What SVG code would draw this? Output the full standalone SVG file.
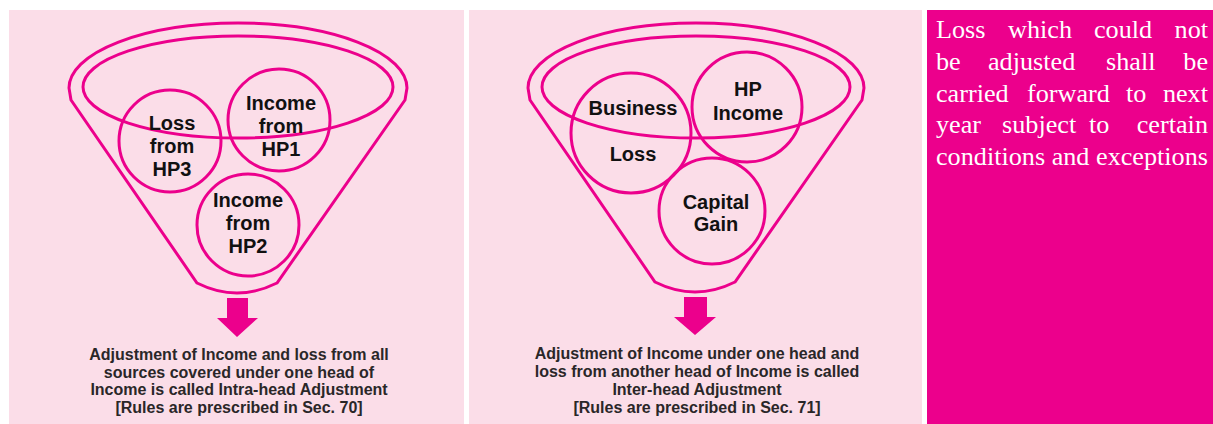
<svg xmlns="http://www.w3.org/2000/svg" width="1213" height="424" viewBox="0 0 1213 424">
<style>
.panel{fill:#FBDDE8}
.line{fill:none;stroke:#EC008C;stroke-width:3}
.lbl{font-family:"Liberation Sans",Arial,Helvetica,sans-serif;font-weight:bold;font-size:20px;fill:#111;text-anchor:middle}
.cap{font-family:"Liberation Sans",Arial,Helvetica,sans-serif;font-weight:bold;font-size:16px;fill:#2a2728;text-anchor:middle}
.note{font-family:"Liberation Serif","Times New Roman",serif;font-size:26.2px;fill:#fff}
.arrow{fill:#EC008C}
</style>
<rect width="1213" height="424" fill="#fff"/>
<rect class="panel" x="9" y="10" width="455" height="414"/>
<rect class="panel" x="469" y="10" width="453" height="414"/>
<rect x="927" y="10" width="286" height="414" fill="#EC008C"/>

<g id="funnel1">
<path class="line" d="M71,100 L69,88 A169,65 0 0 1 407,88 L405,100 L277,283 Q237,303 197,283 Z"/>
<ellipse class="line" cx="238" cy="87" rx="155" ry="51"/>
</g>
<g id="node-loss-hp3">
<circle class="line" cx="170" cy="141" r="51"/>
<text class="lbl" x="172" y="130">Loss</text>
<text class="lbl" x="172" y="153">from</text>
<text class="lbl" x="172" y="176">HP3</text>
</g>
<g id="node-income-hp1">
<circle class="line" cx="279" cy="120" r="51"/>
<text class="lbl" x="281" y="110">Income</text>
<text class="lbl" x="281" y="133">from</text>
<text class="lbl" x="281" y="156">HP1</text>
</g>
<g id="node-income-hp2">
<circle class="line" cx="248" cy="225" r="51"/>
<text class="lbl" x="248" y="207">Income</text>
<text class="lbl" x="248" y="230">from</text>
<text class="lbl" x="248" y="253">HP2</text>
</g>

<g id="funnel2">
<path class="line" d="M530,100 L528,88 A168,65 0 0 1 864,88 L862,100 L735,282 Q695,302 655,282 Z"/>
<ellipse class="line" cx="696" cy="87" rx="154" ry="51"/>
</g>
<g id="node-business-loss">
<circle class="line" cx="631" cy="133" r="60"/>
<text class="lbl" x="633" y="115">Business</text>
<text class="lbl" x="633" y="161">Loss</text>
</g>
<g id="node-hp-income">
<circle class="line" cx="747" cy="107" r="55"/>
<text class="lbl" x="748" y="96">HP</text>
<text class="lbl" x="748" y="120">Income</text>
</g>
<g id="node-capital-gain">
<circle class="line" cx="712" cy="211" r="53"/>
<text class="lbl" x="716" y="209">Capital</text>
<text class="lbl" x="716" y="231">Gain</text>
</g>

<g id="connectors">
<path class="arrow" d="M227,298 H248 V318 H258 L237,337 L217,318 H227 Z"/>
<path class="arrow" d="M684,297 H707 V317 H716 L695,335 L674,317 H684 Z"/>
</g>

<g id="caption-intra">
<text class="cap" x="239" y="360">Adjustment of Income and loss from all</text>
<text class="cap" x="239" y="378">sources covered under one head of</text>
<text class="cap" x="239" y="395">Income is called Intra-head Adjustment</text>
<text class="cap" x="239" y="413">[Rules are prescribed in Sec. 70]</text>
</g>
<g id="caption-inter">
<text class="cap" x="697" y="359">Adjustment of Income under one head and</text>
<text class="cap" x="697" y="377">loss from another head of Income is called</text>
<text class="cap" x="697" y="395">Inter-head Adjustment</text>
<text class="cap" x="697" y="413">[Rules are prescribed in Sec. 71]</text>
</g>

<g id="note">
<text class="note" y="38"><tspan x="936">Loss</tspan><tspan x="1008">which</tspan><tspan x="1094">could</tspan><tspan x="1208" text-anchor="end">not</tspan></text>
<text class="note" y="70"><tspan x="936">be</tspan><tspan x="988">adjusted</tspan><tspan x="1106">shall</tspan><tspan x="1208" text-anchor="end">be</tspan></text>
<text class="note" y="102"><tspan x="936">carried</tspan><tspan x="1027">forward</tspan><tspan x="1126">to</tspan><tspan x="1208" text-anchor="end">next</tspan></text>
<text class="note" y="133"><tspan x="936">year</tspan><tspan x="1002">subject</tspan><tspan x="1089">to</tspan><tspan x="1208" text-anchor="end">certain</tspan></text>
<text class="note" x="936" y="165" textLength="272" lengthAdjust="spacing">conditions and exceptions</text>
</g>
</svg>
